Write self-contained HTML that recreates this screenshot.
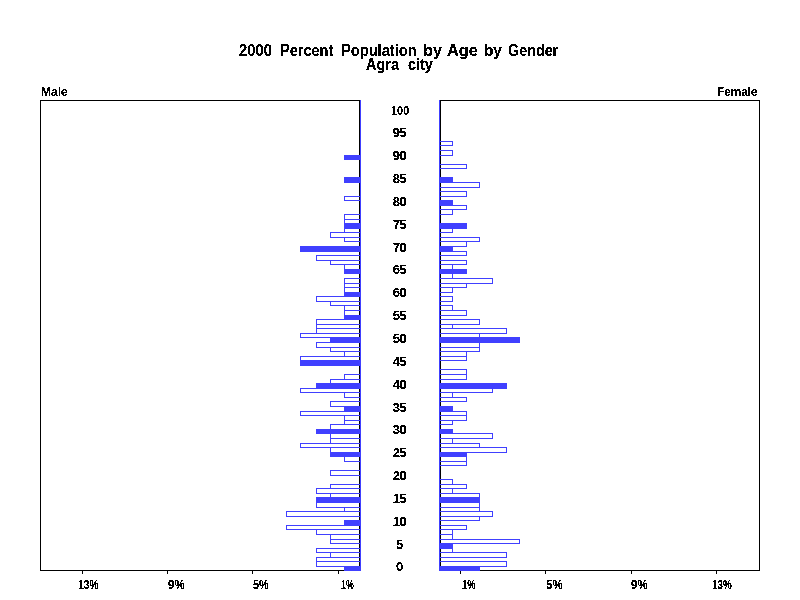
<!DOCTYPE html>
<html><head><meta charset="utf-8"><style>
html,body{margin:0;padding:0;background:#fff;width:800px;height:600px;overflow:hidden}
svg{position:absolute;left:0;top:0}
.t{position:absolute;font-family:"Liberation Sans",sans-serif;line-height:1;white-space:nowrap;color:#000}
</style></head><body>
<svg width="800" height="600" shape-rendering="crispEdges"><rect x="40" y="100" width="320" height="1" fill="#000"/><rect x="40" y="570" width="320" height="1" fill="#000"/><rect x="40" y="100" width="1" height="471" fill="#000"/><rect x="359" y="100" width="1" height="471" fill="#000"/><rect x="440" y="100" width="320" height="1" fill="#000"/><rect x="440" y="570" width="320" height="1" fill="#000"/><rect x="440" y="100" width="1" height="471" fill="#000"/><rect x="759" y="100" width="1" height="471" fill="#000"/><rect x="82" y="571" width="1" height="3" fill="#000"/><rect x="167" y="571" width="1" height="3" fill="#000"/><rect x="252" y="571" width="1" height="3" fill="#000"/><rect x="338" y="571" width="1" height="3" fill="#000"/><rect x="460" y="571" width="1" height="3" fill="#000"/><rect x="545" y="571" width="1" height="3" fill="#000"/><rect x="631" y="571" width="1" height="3" fill="#000"/><rect x="716" y="571" width="1" height="3" fill="#000"/><rect x="360" y="100" width="1" height="471" fill="#4040FF"/><rect x="439" y="100" width="1" height="471" fill="#4040FF"/><rect x="344" y="566" width="17" height="5" fill="#4040FF"/><rect x="439" y="566" width="41" height="5" fill="#4040FF"/><rect x="316" y="561" width="45" height="1" fill="#4040FF"/><rect x="316" y="566" width="45" height="1" fill="#4040FF"/><rect x="316" y="561" width="1" height="6" fill="#4040FF"/><rect x="360" y="561" width="1" height="6" fill="#4040FF"/><rect x="439" y="561" width="68" height="1" fill="#4040FF"/><rect x="439" y="566" width="68" height="1" fill="#4040FF"/><rect x="439" y="561" width="1" height="6" fill="#4040FF"/><rect x="506" y="561" width="1" height="6" fill="#4040FF"/><rect x="316" y="557" width="45" height="1" fill="#4040FF"/><rect x="316" y="561" width="45" height="1" fill="#4040FF"/><rect x="316" y="557" width="1" height="5" fill="#4040FF"/><rect x="360" y="557" width="1" height="5" fill="#4040FF"/><rect x="330" y="552" width="31" height="1" fill="#4040FF"/><rect x="330" y="557" width="31" height="1" fill="#4040FF"/><rect x="330" y="552" width="1" height="6" fill="#4040FF"/><rect x="360" y="552" width="1" height="6" fill="#4040FF"/><rect x="439" y="552" width="68" height="1" fill="#4040FF"/><rect x="439" y="557" width="68" height="1" fill="#4040FF"/><rect x="439" y="552" width="1" height="6" fill="#4040FF"/><rect x="506" y="552" width="1" height="6" fill="#4040FF"/><rect x="316" y="548" width="45" height="1" fill="#4040FF"/><rect x="316" y="552" width="45" height="1" fill="#4040FF"/><rect x="316" y="548" width="1" height="5" fill="#4040FF"/><rect x="360" y="548" width="1" height="5" fill="#4040FF"/><rect x="439" y="548" width="14" height="1" fill="#4040FF"/><rect x="439" y="552" width="14" height="1" fill="#4040FF"/><rect x="439" y="548" width="1" height="5" fill="#4040FF"/><rect x="452" y="548" width="1" height="5" fill="#4040FF"/><rect x="439" y="543" width="14" height="6" fill="#4040FF"/><rect x="330" y="539" width="31" height="1" fill="#4040FF"/><rect x="330" y="543" width="31" height="1" fill="#4040FF"/><rect x="330" y="539" width="1" height="5" fill="#4040FF"/><rect x="360" y="539" width="1" height="5" fill="#4040FF"/><rect x="439" y="539" width="81" height="1" fill="#4040FF"/><rect x="439" y="543" width="81" height="1" fill="#4040FF"/><rect x="439" y="539" width="1" height="5" fill="#4040FF"/><rect x="519" y="539" width="1" height="5" fill="#4040FF"/><rect x="330" y="534" width="31" height="1" fill="#4040FF"/><rect x="330" y="539" width="31" height="1" fill="#4040FF"/><rect x="330" y="534" width="1" height="6" fill="#4040FF"/><rect x="360" y="534" width="1" height="6" fill="#4040FF"/><rect x="439" y="534" width="14" height="1" fill="#4040FF"/><rect x="439" y="539" width="14" height="1" fill="#4040FF"/><rect x="439" y="534" width="1" height="6" fill="#4040FF"/><rect x="452" y="534" width="1" height="6" fill="#4040FF"/><rect x="316" y="529" width="45" height="1" fill="#4040FF"/><rect x="316" y="534" width="45" height="1" fill="#4040FF"/><rect x="316" y="529" width="1" height="6" fill="#4040FF"/><rect x="360" y="529" width="1" height="6" fill="#4040FF"/><rect x="439" y="529" width="14" height="1" fill="#4040FF"/><rect x="439" y="534" width="14" height="1" fill="#4040FF"/><rect x="439" y="529" width="1" height="6" fill="#4040FF"/><rect x="452" y="529" width="1" height="6" fill="#4040FF"/><rect x="286" y="525" width="75" height="1" fill="#4040FF"/><rect x="286" y="529" width="75" height="1" fill="#4040FF"/><rect x="286" y="525" width="1" height="5" fill="#4040FF"/><rect x="360" y="525" width="1" height="5" fill="#4040FF"/><rect x="439" y="525" width="28" height="1" fill="#4040FF"/><rect x="439" y="529" width="28" height="1" fill="#4040FF"/><rect x="439" y="525" width="1" height="5" fill="#4040FF"/><rect x="466" y="525" width="1" height="5" fill="#4040FF"/><rect x="344" y="520" width="17" height="6" fill="#4040FF"/><rect x="439" y="516" width="41" height="1" fill="#4040FF"/><rect x="439" y="520" width="41" height="1" fill="#4040FF"/><rect x="439" y="516" width="1" height="5" fill="#4040FF"/><rect x="479" y="516" width="1" height="5" fill="#4040FF"/><rect x="286" y="511" width="75" height="1" fill="#4040FF"/><rect x="286" y="516" width="75" height="1" fill="#4040FF"/><rect x="286" y="511" width="1" height="6" fill="#4040FF"/><rect x="360" y="511" width="1" height="6" fill="#4040FF"/><rect x="439" y="511" width="54" height="1" fill="#4040FF"/><rect x="439" y="516" width="54" height="1" fill="#4040FF"/><rect x="439" y="511" width="1" height="6" fill="#4040FF"/><rect x="492" y="511" width="1" height="6" fill="#4040FF"/><rect x="344" y="507" width="17" height="1" fill="#4040FF"/><rect x="344" y="511" width="17" height="1" fill="#4040FF"/><rect x="344" y="507" width="1" height="5" fill="#4040FF"/><rect x="360" y="507" width="1" height="5" fill="#4040FF"/><rect x="439" y="507" width="41" height="1" fill="#4040FF"/><rect x="439" y="511" width="41" height="1" fill="#4040FF"/><rect x="439" y="507" width="1" height="5" fill="#4040FF"/><rect x="479" y="507" width="1" height="5" fill="#4040FF"/><rect x="316" y="502" width="45" height="1" fill="#4040FF"/><rect x="316" y="507" width="45" height="1" fill="#4040FF"/><rect x="316" y="502" width="1" height="6" fill="#4040FF"/><rect x="360" y="502" width="1" height="6" fill="#4040FF"/><rect x="439" y="502" width="41" height="1" fill="#4040FF"/><rect x="439" y="507" width="41" height="1" fill="#4040FF"/><rect x="439" y="502" width="1" height="6" fill="#4040FF"/><rect x="479" y="502" width="1" height="6" fill="#4040FF"/><rect x="316" y="497" width="45" height="6" fill="#4040FF"/><rect x="439" y="497" width="41" height="6" fill="#4040FF"/><rect x="330" y="493" width="31" height="1" fill="#4040FF"/><rect x="330" y="497" width="31" height="1" fill="#4040FF"/><rect x="330" y="493" width="1" height="5" fill="#4040FF"/><rect x="360" y="493" width="1" height="5" fill="#4040FF"/><rect x="439" y="493" width="41" height="1" fill="#4040FF"/><rect x="439" y="497" width="41" height="1" fill="#4040FF"/><rect x="439" y="493" width="1" height="5" fill="#4040FF"/><rect x="479" y="493" width="1" height="5" fill="#4040FF"/><rect x="316" y="488" width="45" height="1" fill="#4040FF"/><rect x="316" y="493" width="45" height="1" fill="#4040FF"/><rect x="316" y="488" width="1" height="6" fill="#4040FF"/><rect x="360" y="488" width="1" height="6" fill="#4040FF"/><rect x="439" y="488" width="14" height="1" fill="#4040FF"/><rect x="439" y="493" width="14" height="1" fill="#4040FF"/><rect x="439" y="488" width="1" height="6" fill="#4040FF"/><rect x="452" y="488" width="1" height="6" fill="#4040FF"/><rect x="330" y="484" width="31" height="1" fill="#4040FF"/><rect x="330" y="488" width="31" height="1" fill="#4040FF"/><rect x="330" y="484" width="1" height="5" fill="#4040FF"/><rect x="360" y="484" width="1" height="5" fill="#4040FF"/><rect x="439" y="484" width="28" height="1" fill="#4040FF"/><rect x="439" y="488" width="28" height="1" fill="#4040FF"/><rect x="439" y="484" width="1" height="5" fill="#4040FF"/><rect x="466" y="484" width="1" height="5" fill="#4040FF"/><rect x="439" y="479" width="14" height="1" fill="#4040FF"/><rect x="439" y="484" width="14" height="1" fill="#4040FF"/><rect x="439" y="479" width="1" height="6" fill="#4040FF"/><rect x="452" y="479" width="1" height="6" fill="#4040FF"/><rect x="330" y="470" width="31" height="1" fill="#4040FF"/><rect x="330" y="475" width="31" height="1" fill="#4040FF"/><rect x="330" y="470" width="1" height="6" fill="#4040FF"/><rect x="360" y="470" width="1" height="6" fill="#4040FF"/><rect x="439" y="461" width="28" height="1" fill="#4040FF"/><rect x="439" y="465" width="28" height="1" fill="#4040FF"/><rect x="439" y="461" width="1" height="5" fill="#4040FF"/><rect x="466" y="461" width="1" height="5" fill="#4040FF"/><rect x="344" y="456" width="17" height="1" fill="#4040FF"/><rect x="344" y="461" width="17" height="1" fill="#4040FF"/><rect x="344" y="456" width="1" height="6" fill="#4040FF"/><rect x="360" y="456" width="1" height="6" fill="#4040FF"/><rect x="439" y="456" width="28" height="1" fill="#4040FF"/><rect x="439" y="461" width="28" height="1" fill="#4040FF"/><rect x="439" y="456" width="1" height="6" fill="#4040FF"/><rect x="466" y="456" width="1" height="6" fill="#4040FF"/><rect x="330" y="452" width="31" height="5" fill="#4040FF"/><rect x="439" y="452" width="28" height="5" fill="#4040FF"/><rect x="330" y="447" width="31" height="1" fill="#4040FF"/><rect x="330" y="452" width="31" height="1" fill="#4040FF"/><rect x="330" y="447" width="1" height="6" fill="#4040FF"/><rect x="360" y="447" width="1" height="6" fill="#4040FF"/><rect x="439" y="447" width="68" height="1" fill="#4040FF"/><rect x="439" y="452" width="68" height="1" fill="#4040FF"/><rect x="439" y="447" width="1" height="6" fill="#4040FF"/><rect x="506" y="447" width="1" height="6" fill="#4040FF"/><rect x="300" y="443" width="61" height="1" fill="#4040FF"/><rect x="300" y="447" width="61" height="1" fill="#4040FF"/><rect x="300" y="443" width="1" height="5" fill="#4040FF"/><rect x="360" y="443" width="1" height="5" fill="#4040FF"/><rect x="439" y="443" width="41" height="1" fill="#4040FF"/><rect x="439" y="447" width="41" height="1" fill="#4040FF"/><rect x="439" y="443" width="1" height="5" fill="#4040FF"/><rect x="479" y="443" width="1" height="5" fill="#4040FF"/><rect x="330" y="438" width="31" height="1" fill="#4040FF"/><rect x="330" y="443" width="31" height="1" fill="#4040FF"/><rect x="330" y="438" width="1" height="6" fill="#4040FF"/><rect x="360" y="438" width="1" height="6" fill="#4040FF"/><rect x="439" y="438" width="14" height="1" fill="#4040FF"/><rect x="439" y="443" width="14" height="1" fill="#4040FF"/><rect x="439" y="438" width="1" height="6" fill="#4040FF"/><rect x="452" y="438" width="1" height="6" fill="#4040FF"/><rect x="330" y="433" width="31" height="1" fill="#4040FF"/><rect x="330" y="438" width="31" height="1" fill="#4040FF"/><rect x="330" y="433" width="1" height="6" fill="#4040FF"/><rect x="360" y="433" width="1" height="6" fill="#4040FF"/><rect x="439" y="433" width="54" height="1" fill="#4040FF"/><rect x="439" y="438" width="54" height="1" fill="#4040FF"/><rect x="439" y="433" width="1" height="6" fill="#4040FF"/><rect x="492" y="433" width="1" height="6" fill="#4040FF"/><rect x="316" y="429" width="45" height="5" fill="#4040FF"/><rect x="439" y="429" width="14" height="5" fill="#4040FF"/><rect x="330" y="424" width="31" height="1" fill="#4040FF"/><rect x="330" y="429" width="31" height="1" fill="#4040FF"/><rect x="330" y="424" width="1" height="6" fill="#4040FF"/><rect x="360" y="424" width="1" height="6" fill="#4040FF"/><rect x="344" y="420" width="17" height="1" fill="#4040FF"/><rect x="344" y="424" width="17" height="1" fill="#4040FF"/><rect x="344" y="420" width="1" height="5" fill="#4040FF"/><rect x="360" y="420" width="1" height="5" fill="#4040FF"/><rect x="439" y="420" width="14" height="1" fill="#4040FF"/><rect x="439" y="424" width="14" height="1" fill="#4040FF"/><rect x="439" y="420" width="1" height="5" fill="#4040FF"/><rect x="452" y="420" width="1" height="5" fill="#4040FF"/><rect x="344" y="415" width="17" height="1" fill="#4040FF"/><rect x="344" y="420" width="17" height="1" fill="#4040FF"/><rect x="344" y="415" width="1" height="6" fill="#4040FF"/><rect x="360" y="415" width="1" height="6" fill="#4040FF"/><rect x="439" y="415" width="28" height="1" fill="#4040FF"/><rect x="439" y="420" width="28" height="1" fill="#4040FF"/><rect x="439" y="415" width="1" height="6" fill="#4040FF"/><rect x="466" y="415" width="1" height="6" fill="#4040FF"/><rect x="300" y="411" width="61" height="1" fill="#4040FF"/><rect x="300" y="415" width="61" height="1" fill="#4040FF"/><rect x="300" y="411" width="1" height="5" fill="#4040FF"/><rect x="360" y="411" width="1" height="5" fill="#4040FF"/><rect x="439" y="411" width="28" height="1" fill="#4040FF"/><rect x="439" y="415" width="28" height="1" fill="#4040FF"/><rect x="439" y="411" width="1" height="5" fill="#4040FF"/><rect x="466" y="411" width="1" height="5" fill="#4040FF"/><rect x="344" y="406" width="17" height="6" fill="#4040FF"/><rect x="439" y="406" width="14" height="6" fill="#4040FF"/><rect x="330" y="401" width="31" height="1" fill="#4040FF"/><rect x="330" y="406" width="31" height="1" fill="#4040FF"/><rect x="330" y="401" width="1" height="6" fill="#4040FF"/><rect x="360" y="401" width="1" height="6" fill="#4040FF"/><rect x="439" y="397" width="28" height="1" fill="#4040FF"/><rect x="439" y="401" width="28" height="1" fill="#4040FF"/><rect x="439" y="397" width="1" height="5" fill="#4040FF"/><rect x="466" y="397" width="1" height="5" fill="#4040FF"/><rect x="344" y="392" width="17" height="1" fill="#4040FF"/><rect x="344" y="397" width="17" height="1" fill="#4040FF"/><rect x="344" y="392" width="1" height="6" fill="#4040FF"/><rect x="360" y="392" width="1" height="6" fill="#4040FF"/><rect x="439" y="392" width="14" height="1" fill="#4040FF"/><rect x="439" y="397" width="14" height="1" fill="#4040FF"/><rect x="439" y="392" width="1" height="6" fill="#4040FF"/><rect x="452" y="392" width="1" height="6" fill="#4040FF"/><rect x="300" y="388" width="61" height="1" fill="#4040FF"/><rect x="300" y="392" width="61" height="1" fill="#4040FF"/><rect x="300" y="388" width="1" height="5" fill="#4040FF"/><rect x="360" y="388" width="1" height="5" fill="#4040FF"/><rect x="439" y="388" width="54" height="1" fill="#4040FF"/><rect x="439" y="392" width="54" height="1" fill="#4040FF"/><rect x="439" y="388" width="1" height="5" fill="#4040FF"/><rect x="492" y="388" width="1" height="5" fill="#4040FF"/><rect x="316" y="383" width="45" height="6" fill="#4040FF"/><rect x="439" y="383" width="68" height="6" fill="#4040FF"/><rect x="330" y="379" width="31" height="1" fill="#4040FF"/><rect x="330" y="383" width="31" height="1" fill="#4040FF"/><rect x="330" y="379" width="1" height="5" fill="#4040FF"/><rect x="360" y="379" width="1" height="5" fill="#4040FF"/><rect x="344" y="374" width="17" height="1" fill="#4040FF"/><rect x="344" y="379" width="17" height="1" fill="#4040FF"/><rect x="344" y="374" width="1" height="6" fill="#4040FF"/><rect x="360" y="374" width="1" height="6" fill="#4040FF"/><rect x="439" y="374" width="28" height="1" fill="#4040FF"/><rect x="439" y="379" width="28" height="1" fill="#4040FF"/><rect x="439" y="374" width="1" height="6" fill="#4040FF"/><rect x="466" y="374" width="1" height="6" fill="#4040FF"/><rect x="439" y="369" width="28" height="1" fill="#4040FF"/><rect x="439" y="374" width="28" height="1" fill="#4040FF"/><rect x="439" y="369" width="1" height="6" fill="#4040FF"/><rect x="466" y="369" width="1" height="6" fill="#4040FF"/><rect x="300" y="360" width="61" height="6" fill="#4040FF"/><rect x="300" y="356" width="61" height="1" fill="#4040FF"/><rect x="300" y="360" width="61" height="1" fill="#4040FF"/><rect x="300" y="356" width="1" height="5" fill="#4040FF"/><rect x="360" y="356" width="1" height="5" fill="#4040FF"/><rect x="439" y="356" width="28" height="1" fill="#4040FF"/><rect x="439" y="360" width="28" height="1" fill="#4040FF"/><rect x="439" y="356" width="1" height="5" fill="#4040FF"/><rect x="466" y="356" width="1" height="5" fill="#4040FF"/><rect x="344" y="351" width="17" height="1" fill="#4040FF"/><rect x="344" y="356" width="17" height="1" fill="#4040FF"/><rect x="344" y="351" width="1" height="6" fill="#4040FF"/><rect x="360" y="351" width="1" height="6" fill="#4040FF"/><rect x="439" y="351" width="28" height="1" fill="#4040FF"/><rect x="439" y="356" width="28" height="1" fill="#4040FF"/><rect x="439" y="351" width="1" height="6" fill="#4040FF"/><rect x="466" y="351" width="1" height="6" fill="#4040FF"/><rect x="330" y="347" width="31" height="1" fill="#4040FF"/><rect x="330" y="351" width="31" height="1" fill="#4040FF"/><rect x="330" y="347" width="1" height="5" fill="#4040FF"/><rect x="360" y="347" width="1" height="5" fill="#4040FF"/><rect x="439" y="347" width="41" height="1" fill="#4040FF"/><rect x="439" y="351" width="41" height="1" fill="#4040FF"/><rect x="439" y="347" width="1" height="5" fill="#4040FF"/><rect x="479" y="347" width="1" height="5" fill="#4040FF"/><rect x="316" y="342" width="45" height="1" fill="#4040FF"/><rect x="316" y="347" width="45" height="1" fill="#4040FF"/><rect x="316" y="342" width="1" height="6" fill="#4040FF"/><rect x="360" y="342" width="1" height="6" fill="#4040FF"/><rect x="439" y="342" width="41" height="1" fill="#4040FF"/><rect x="439" y="347" width="41" height="1" fill="#4040FF"/><rect x="439" y="342" width="1" height="6" fill="#4040FF"/><rect x="479" y="342" width="1" height="6" fill="#4040FF"/><rect x="330" y="337" width="31" height="6" fill="#4040FF"/><rect x="439" y="337" width="81" height="6" fill="#4040FF"/><rect x="300" y="333" width="61" height="1" fill="#4040FF"/><rect x="300" y="337" width="61" height="1" fill="#4040FF"/><rect x="300" y="333" width="1" height="5" fill="#4040FF"/><rect x="360" y="333" width="1" height="5" fill="#4040FF"/><rect x="439" y="333" width="41" height="1" fill="#4040FF"/><rect x="439" y="337" width="41" height="1" fill="#4040FF"/><rect x="439" y="333" width="1" height="5" fill="#4040FF"/><rect x="479" y="333" width="1" height="5" fill="#4040FF"/><rect x="316" y="328" width="45" height="1" fill="#4040FF"/><rect x="316" y="333" width="45" height="1" fill="#4040FF"/><rect x="316" y="328" width="1" height="6" fill="#4040FF"/><rect x="360" y="328" width="1" height="6" fill="#4040FF"/><rect x="439" y="328" width="68" height="1" fill="#4040FF"/><rect x="439" y="333" width="68" height="1" fill="#4040FF"/><rect x="439" y="328" width="1" height="6" fill="#4040FF"/><rect x="506" y="328" width="1" height="6" fill="#4040FF"/><rect x="316" y="324" width="45" height="1" fill="#4040FF"/><rect x="316" y="328" width="45" height="1" fill="#4040FF"/><rect x="316" y="324" width="1" height="5" fill="#4040FF"/><rect x="360" y="324" width="1" height="5" fill="#4040FF"/><rect x="439" y="324" width="14" height="1" fill="#4040FF"/><rect x="439" y="328" width="14" height="1" fill="#4040FF"/><rect x="439" y="324" width="1" height="5" fill="#4040FF"/><rect x="452" y="324" width="1" height="5" fill="#4040FF"/><rect x="316" y="319" width="45" height="1" fill="#4040FF"/><rect x="316" y="324" width="45" height="1" fill="#4040FF"/><rect x="316" y="319" width="1" height="6" fill="#4040FF"/><rect x="360" y="319" width="1" height="6" fill="#4040FF"/><rect x="439" y="319" width="41" height="1" fill="#4040FF"/><rect x="439" y="324" width="41" height="1" fill="#4040FF"/><rect x="439" y="319" width="1" height="6" fill="#4040FF"/><rect x="479" y="319" width="1" height="6" fill="#4040FF"/><rect x="344" y="315" width="17" height="5" fill="#4040FF"/><rect x="344" y="310" width="17" height="1" fill="#4040FF"/><rect x="344" y="315" width="17" height="1" fill="#4040FF"/><rect x="344" y="310" width="1" height="6" fill="#4040FF"/><rect x="360" y="310" width="1" height="6" fill="#4040FF"/><rect x="439" y="310" width="28" height="1" fill="#4040FF"/><rect x="439" y="315" width="28" height="1" fill="#4040FF"/><rect x="439" y="310" width="1" height="6" fill="#4040FF"/><rect x="466" y="310" width="1" height="6" fill="#4040FF"/><rect x="344" y="305" width="17" height="1" fill="#4040FF"/><rect x="344" y="310" width="17" height="1" fill="#4040FF"/><rect x="344" y="305" width="1" height="6" fill="#4040FF"/><rect x="360" y="305" width="1" height="6" fill="#4040FF"/><rect x="439" y="305" width="14" height="1" fill="#4040FF"/><rect x="439" y="310" width="14" height="1" fill="#4040FF"/><rect x="439" y="305" width="1" height="6" fill="#4040FF"/><rect x="452" y="305" width="1" height="6" fill="#4040FF"/><rect x="330" y="301" width="31" height="1" fill="#4040FF"/><rect x="330" y="305" width="31" height="1" fill="#4040FF"/><rect x="330" y="301" width="1" height="5" fill="#4040FF"/><rect x="360" y="301" width="1" height="5" fill="#4040FF"/><rect x="316" y="296" width="45" height="1" fill="#4040FF"/><rect x="316" y="301" width="45" height="1" fill="#4040FF"/><rect x="316" y="296" width="1" height="6" fill="#4040FF"/><rect x="360" y="296" width="1" height="6" fill="#4040FF"/><rect x="439" y="296" width="14" height="1" fill="#4040FF"/><rect x="439" y="301" width="14" height="1" fill="#4040FF"/><rect x="439" y="296" width="1" height="6" fill="#4040FF"/><rect x="452" y="296" width="1" height="6" fill="#4040FF"/><rect x="344" y="292" width="17" height="5" fill="#4040FF"/><rect x="344" y="287" width="17" height="1" fill="#4040FF"/><rect x="344" y="292" width="17" height="1" fill="#4040FF"/><rect x="344" y="287" width="1" height="6" fill="#4040FF"/><rect x="360" y="287" width="1" height="6" fill="#4040FF"/><rect x="439" y="287" width="14" height="1" fill="#4040FF"/><rect x="439" y="292" width="14" height="1" fill="#4040FF"/><rect x="439" y="287" width="1" height="6" fill="#4040FF"/><rect x="452" y="287" width="1" height="6" fill="#4040FF"/><rect x="344" y="283" width="17" height="1" fill="#4040FF"/><rect x="344" y="287" width="17" height="1" fill="#4040FF"/><rect x="344" y="283" width="1" height="5" fill="#4040FF"/><rect x="360" y="283" width="1" height="5" fill="#4040FF"/><rect x="439" y="283" width="28" height="1" fill="#4040FF"/><rect x="439" y="287" width="28" height="1" fill="#4040FF"/><rect x="439" y="283" width="1" height="5" fill="#4040FF"/><rect x="466" y="283" width="1" height="5" fill="#4040FF"/><rect x="344" y="278" width="17" height="1" fill="#4040FF"/><rect x="344" y="283" width="17" height="1" fill="#4040FF"/><rect x="344" y="278" width="1" height="6" fill="#4040FF"/><rect x="360" y="278" width="1" height="6" fill="#4040FF"/><rect x="439" y="278" width="54" height="1" fill="#4040FF"/><rect x="439" y="283" width="54" height="1" fill="#4040FF"/><rect x="439" y="278" width="1" height="6" fill="#4040FF"/><rect x="492" y="278" width="1" height="6" fill="#4040FF"/><rect x="439" y="273" width="14" height="1" fill="#4040FF"/><rect x="439" y="278" width="14" height="1" fill="#4040FF"/><rect x="439" y="273" width="1" height="6" fill="#4040FF"/><rect x="452" y="273" width="1" height="6" fill="#4040FF"/><rect x="344" y="269" width="17" height="5" fill="#4040FF"/><rect x="439" y="269" width="28" height="5" fill="#4040FF"/><rect x="344" y="264" width="17" height="1" fill="#4040FF"/><rect x="344" y="269" width="17" height="1" fill="#4040FF"/><rect x="344" y="264" width="1" height="6" fill="#4040FF"/><rect x="360" y="264" width="1" height="6" fill="#4040FF"/><rect x="439" y="264" width="14" height="1" fill="#4040FF"/><rect x="439" y="269" width="14" height="1" fill="#4040FF"/><rect x="439" y="264" width="1" height="6" fill="#4040FF"/><rect x="452" y="264" width="1" height="6" fill="#4040FF"/><rect x="330" y="260" width="31" height="1" fill="#4040FF"/><rect x="330" y="264" width="31" height="1" fill="#4040FF"/><rect x="330" y="260" width="1" height="5" fill="#4040FF"/><rect x="360" y="260" width="1" height="5" fill="#4040FF"/><rect x="439" y="260" width="28" height="1" fill="#4040FF"/><rect x="439" y="264" width="28" height="1" fill="#4040FF"/><rect x="439" y="260" width="1" height="5" fill="#4040FF"/><rect x="466" y="260" width="1" height="5" fill="#4040FF"/><rect x="316" y="255" width="45" height="1" fill="#4040FF"/><rect x="316" y="260" width="45" height="1" fill="#4040FF"/><rect x="316" y="255" width="1" height="6" fill="#4040FF"/><rect x="360" y="255" width="1" height="6" fill="#4040FF"/><rect x="439" y="251" width="28" height="1" fill="#4040FF"/><rect x="439" y="255" width="28" height="1" fill="#4040FF"/><rect x="439" y="251" width="1" height="5" fill="#4040FF"/><rect x="466" y="251" width="1" height="5" fill="#4040FF"/><rect x="300" y="246" width="61" height="6" fill="#4040FF"/><rect x="439" y="246" width="14" height="6" fill="#4040FF"/><rect x="439" y="241" width="28" height="1" fill="#4040FF"/><rect x="439" y="246" width="28" height="1" fill="#4040FF"/><rect x="439" y="241" width="1" height="6" fill="#4040FF"/><rect x="466" y="241" width="1" height="6" fill="#4040FF"/><rect x="344" y="237" width="17" height="1" fill="#4040FF"/><rect x="344" y="241" width="17" height="1" fill="#4040FF"/><rect x="344" y="237" width="1" height="5" fill="#4040FF"/><rect x="360" y="237" width="1" height="5" fill="#4040FF"/><rect x="439" y="237" width="41" height="1" fill="#4040FF"/><rect x="439" y="241" width="41" height="1" fill="#4040FF"/><rect x="439" y="237" width="1" height="5" fill="#4040FF"/><rect x="479" y="237" width="1" height="5" fill="#4040FF"/><rect x="330" y="232" width="31" height="1" fill="#4040FF"/><rect x="330" y="237" width="31" height="1" fill="#4040FF"/><rect x="330" y="232" width="1" height="6" fill="#4040FF"/><rect x="360" y="232" width="1" height="6" fill="#4040FF"/><rect x="344" y="228" width="17" height="1" fill="#4040FF"/><rect x="344" y="232" width="17" height="1" fill="#4040FF"/><rect x="344" y="228" width="1" height="5" fill="#4040FF"/><rect x="360" y="228" width="1" height="5" fill="#4040FF"/><rect x="439" y="228" width="14" height="1" fill="#4040FF"/><rect x="439" y="232" width="14" height="1" fill="#4040FF"/><rect x="439" y="228" width="1" height="5" fill="#4040FF"/><rect x="452" y="228" width="1" height="5" fill="#4040FF"/><rect x="344" y="223" width="17" height="6" fill="#4040FF"/><rect x="439" y="223" width="28" height="6" fill="#4040FF"/><rect x="344" y="219" width="17" height="1" fill="#4040FF"/><rect x="344" y="223" width="17" height="1" fill="#4040FF"/><rect x="344" y="219" width="1" height="5" fill="#4040FF"/><rect x="360" y="219" width="1" height="5" fill="#4040FF"/><rect x="344" y="214" width="17" height="1" fill="#4040FF"/><rect x="344" y="219" width="17" height="1" fill="#4040FF"/><rect x="344" y="214" width="1" height="6" fill="#4040FF"/><rect x="360" y="214" width="1" height="6" fill="#4040FF"/><rect x="439" y="209" width="14" height="1" fill="#4040FF"/><rect x="439" y="214" width="14" height="1" fill="#4040FF"/><rect x="439" y="209" width="1" height="6" fill="#4040FF"/><rect x="452" y="209" width="1" height="6" fill="#4040FF"/><rect x="439" y="205" width="28" height="1" fill="#4040FF"/><rect x="439" y="209" width="28" height="1" fill="#4040FF"/><rect x="439" y="205" width="1" height="5" fill="#4040FF"/><rect x="466" y="205" width="1" height="5" fill="#4040FF"/><rect x="439" y="200" width="14" height="6" fill="#4040FF"/><rect x="344" y="196" width="17" height="1" fill="#4040FF"/><rect x="344" y="200" width="17" height="1" fill="#4040FF"/><rect x="344" y="196" width="1" height="5" fill="#4040FF"/><rect x="360" y="196" width="1" height="5" fill="#4040FF"/><rect x="439" y="191" width="28" height="1" fill="#4040FF"/><rect x="439" y="196" width="28" height="1" fill="#4040FF"/><rect x="439" y="191" width="1" height="6" fill="#4040FF"/><rect x="466" y="191" width="1" height="6" fill="#4040FF"/><rect x="439" y="182" width="41" height="1" fill="#4040FF"/><rect x="439" y="187" width="41" height="1" fill="#4040FF"/><rect x="439" y="182" width="1" height="6" fill="#4040FF"/><rect x="479" y="182" width="1" height="6" fill="#4040FF"/><rect x="344" y="177" width="17" height="6" fill="#4040FF"/><rect x="439" y="177" width="14" height="6" fill="#4040FF"/><rect x="439" y="164" width="28" height="1" fill="#4040FF"/><rect x="439" y="168" width="28" height="1" fill="#4040FF"/><rect x="439" y="164" width="1" height="5" fill="#4040FF"/><rect x="466" y="164" width="1" height="5" fill="#4040FF"/><rect x="344" y="155" width="17" height="5" fill="#4040FF"/><rect x="439" y="150" width="14" height="1" fill="#4040FF"/><rect x="439" y="155" width="14" height="1" fill="#4040FF"/><rect x="439" y="150" width="1" height="6" fill="#4040FF"/><rect x="452" y="150" width="1" height="6" fill="#4040FF"/><rect x="439" y="141" width="14" height="1" fill="#4040FF"/><rect x="439" y="145" width="14" height="1" fill="#4040FF"/><rect x="439" y="141" width="1" height="5" fill="#4040FF"/><rect x="452" y="141" width="1" height="5" fill="#4040FF"/></svg>
<svg width="0" height="0" style="position:absolute"><filter id="crisp" x="0" y="0" width="100%" height="100%"><feComponentTransfer><feFuncR type="discrete" tableValues="0"/><feFuncG type="discrete" tableValues="0"/><feFuncB type="discrete" tableValues="0"/><feFuncA type="discrete" tableValues="0 0 1 1 1"/></feComponentTransfer></filter></svg>
<div id="txt" style="position:absolute;left:0;top:0;width:800px;height:600px;filter:url(#crisp)"><div class="t" style="left:239.00px;top:43px;font-size:16px;font-weight:bold;transform-origin:0 0;transform:scaleX(0.9245)">2000</div><div class="t" style="left:280.09px;top:43px;font-size:16px;font-weight:bold;transform-origin:0 0;transform:scaleX(0.9080)">Percent</div><div class="t" style="left:341.09px;top:43px;font-size:16px;font-weight:bold;transform-origin:0 0;transform:scaleX(0.9149)">Population</div><div class="t" style="left:422.99px;top:43px;font-size:16px;font-weight:bold;transform-origin:0 0;transform:scaleX(1.0127)">by</div><div class="t" style="left:447.00px;top:43px;font-size:16px;font-weight:bold;transform-origin:0 0;transform:scaleX(1.0222)">Age</div><div class="t" style="left:484.04px;top:43px;font-size:16px;font-weight:bold;transform-origin:0 0;transform:scaleX(0.9565)">by</div><div class="t" style="left:508.00px;top:43px;font-size:16px;font-weight:bold;transform-origin:0 0;transform:scaleX(0.8962)">Gender</div><div class="t" style="left:366.00px;top:57px;font-size:16px;font-weight:bold;transform-origin:0 0;transform:scaleX(0.9028)">Agra</div><div class="t" style="left:408.00px;top:57px;font-size:16px;font-weight:bold;transform-origin:0 0;transform:scaleX(0.9034)">city</div><div class="t" style="left:41.00px;top:86px;font-size:12px;font-weight:bold;transform-origin:0 0;transform:scaleX(0.9999)">Male</div><div class="t" style="left:717.00px;top:86px;font-size:12px;font-weight:bold;transform-origin:0 0;transform:scaleX(0.9836)">Female</div><div class="t" style="left:78.00px;top:577.5px;font-size:13px;font-weight:bold;transform-origin:0 0;transform:scaleX(0.7937)">13%</div><div class="t" style="left:168.00px;top:577.5px;font-size:13px;font-weight:bold;transform-origin:0 0;transform:scaleX(0.8840)">9%</div><div class="t" style="left:253.00px;top:577.5px;font-size:13px;font-weight:bold;transform-origin:0 0;transform:scaleX(0.8320)">5%</div><div class="t" style="left:341.00px;top:577.5px;font-size:13px;font-weight:bold;transform-origin:0 0;transform:scaleX(0.6760)">1%</div><div class="t" style="left:462.00px;top:577.5px;font-size:13px;font-weight:bold;transform-origin:0 0;transform:scaleX(0.7280)">1%</div><div class="t" style="left:391.00px;top:104px;font-size:13px;font-weight:bold;transform-origin:0 0;transform:scaleX(0.8388)">100</div><div class="t" style="left:546.00px;top:577.5px;font-size:13px;font-weight:bold;transform-origin:0 0;transform:scaleX(0.8840)">5%</div><div class="t" style="left:631.00px;top:577.5px;font-size:13px;font-weight:bold;transform-origin:0 0;transform:scaleX(0.8840)">9%</div><div class="t" style="left:712.00px;top:577.5px;font-size:13px;font-weight:bold;transform-origin:0 0;transform:scaleX(0.7559)">13%</div><div class="t" style="left:0px;top:560px;font-size:13px;font-weight:bold;width:799px;text-align:center;letter-spacing:0px">0</div><div class="t" style="left:0px;top:538px;font-size:13px;font-weight:bold;width:799px;text-align:center;letter-spacing:0px">5</div><div class="t" style="left:0px;top:515px;font-size:13px;font-weight:bold;width:799px;text-align:center;letter-spacing:-0.5px">10</div><div class="t" style="left:0px;top:492px;font-size:13px;font-weight:bold;width:799px;text-align:center;letter-spacing:-0.5px">15</div><div class="t" style="left:0px;top:469px;font-size:13px;font-weight:bold;width:799px;text-align:center;letter-spacing:-0.5px">20</div><div class="t" style="left:0px;top:446px;font-size:13px;font-weight:bold;width:799px;text-align:center;letter-spacing:-0.5px">25</div><div class="t" style="left:0px;top:423px;font-size:13px;font-weight:bold;width:799px;text-align:center;letter-spacing:-0.5px">30</div><div class="t" style="left:0px;top:401px;font-size:13px;font-weight:bold;width:799px;text-align:center;letter-spacing:-0.5px">35</div><div class="t" style="left:0px;top:378px;font-size:13px;font-weight:bold;width:799px;text-align:center;letter-spacing:-0.5px">40</div><div class="t" style="left:0px;top:355px;font-size:13px;font-weight:bold;width:799px;text-align:center;letter-spacing:-0.5px">45</div><div class="t" style="left:0px;top:332px;font-size:13px;font-weight:bold;width:799px;text-align:center;letter-spacing:-0.5px">50</div><div class="t" style="left:0px;top:309px;font-size:13px;font-weight:bold;width:799px;text-align:center;letter-spacing:-0.5px">55</div><div class="t" style="left:0px;top:286px;font-size:13px;font-weight:bold;width:799px;text-align:center;letter-spacing:-0.5px">60</div><div class="t" style="left:0px;top:263px;font-size:13px;font-weight:bold;width:799px;text-align:center;letter-spacing:-0.5px">65</div><div class="t" style="left:0px;top:241px;font-size:13px;font-weight:bold;width:799px;text-align:center;letter-spacing:-0.5px">70</div><div class="t" style="left:0px;top:218px;font-size:13px;font-weight:bold;width:799px;text-align:center;letter-spacing:-0.5px">75</div><div class="t" style="left:0px;top:195px;font-size:13px;font-weight:bold;width:799px;text-align:center;letter-spacing:-0.5px">80</div><div class="t" style="left:0px;top:172px;font-size:13px;font-weight:bold;width:799px;text-align:center;letter-spacing:-0.5px">85</div><div class="t" style="left:0px;top:149px;font-size:13px;font-weight:bold;width:799px;text-align:center;letter-spacing:-0.5px">90</div><div class="t" style="left:0px;top:126px;font-size:13px;font-weight:bold;width:799px;text-align:center;letter-spacing:-0.5px">95</div></div>
</body></html>
